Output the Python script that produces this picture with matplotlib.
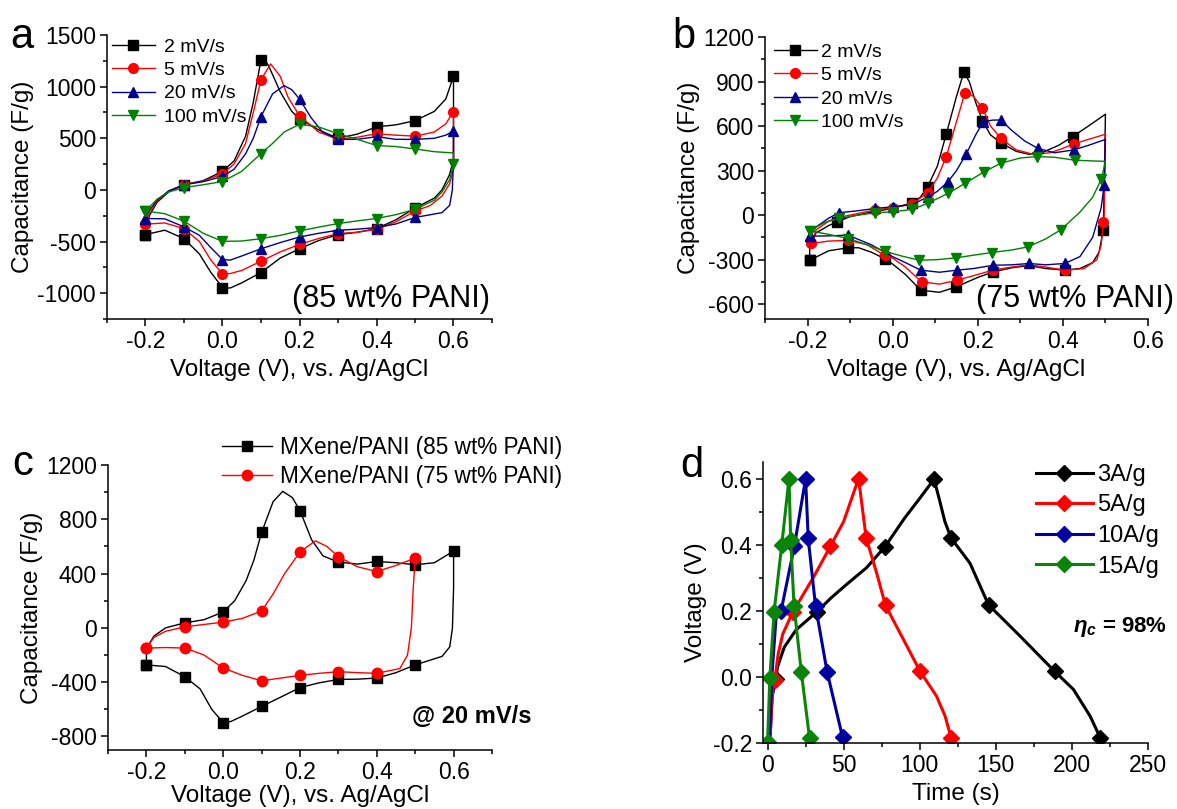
import numpy as np
import matplotlib
matplotlib.use('Agg')
import matplotlib.pyplot as plt
from matplotlib.ticker import MultipleLocator

plt.rcParams['font.family'] = ['Liberation Sans', 'DejaVu Sans']
plt.rcParams['axes.unicode_minus'] = False
plt.rcParams['mathtext.fontset'] = 'custom'
plt.rcParams['mathtext.rm'] = 'Liberation Sans:bold'
plt.rcParams['mathtext.it'] = 'Liberation Sans:bold:italic'

# ---------------- panel a: 85 wt% PANI, CV at several scan rates ----------------
a_labels = ['2 mV/s', '5 mV/s', '20 mV/s', '100 mV/s']

a_v_2 = [-0.2, -0.19, -0.17, -0.14, -0.1, -0.05, 0.0, 0.03, 0.06, 0.08, 0.1, 0.105, 0.12, 0.15, 0.18, 0.2,
         0.25, 0.3, 0.35, 0.4, 0.45, 0.5, 0.55, 0.58, 0.6,
         0.6, 0.59, 0.57, 0.55, 0.5, 0.45, 0.4, 0.35, 0.3, 0.25, 0.2, 0.15, 0.1, 0.05, 0.02, 0.0,
         -0.03, -0.06, -0.1, -0.15, -0.2]
a_c_2 = [-433, -250, -120, -20, 50, 90, 180, 280, 520, 850, 1260, 1290, 1200, 950, 760, 690,
         580, 500, 540, 610, 630, 670, 760, 880, 1100,
         300, 150, 0, -80, -175, -290, -375, -410, -433, -490, -570, -660, -800, -900, -950, -945,
         -800, -620, -472, -390, -433]
a_m_2 = [1, 0, 0, 0, 1, 0, 1, 0, 0, 0, 1, 0, 0, 0, 0, 1, 0, 1, 0, 1, 0, 1, 0, 0, 1,
         0, 0, 0, 0, 1, 0, 1, 0, 1, 0, 1, 0, 1, 0, 0, 1, 0, 0, 1, 0, 1]

a_v_5 = [-0.2, -0.19, -0.17, -0.14, -0.1, -0.05, 0.0, 0.03, 0.06, 0.08, 0.1, 0.125, 0.15, 0.17, 0.2,
         0.25, 0.3, 0.35, 0.4, 0.45, 0.5, 0.55, 0.58, 0.6,
         0.6, 0.59, 0.57, 0.54, 0.5, 0.45, 0.4, 0.35, 0.3, 0.25, 0.2, 0.15, 0.1, 0.05, 0.02, 0.0,
         -0.03, -0.06, -0.1, -0.15, -0.2]
a_c_5 = [-332, -230, -110, -10, 50, 85, 156, 250, 450, 750, 1068, 1220, 1100, 900, 717,
         560, 490, 510, 544, 530, 521, 560, 640, 759,
         200, 60, -60, -150, -205, -310, -381, -410, -423, -470, -528, -600, -690, -780, -810, -814,
         -680, -500, -375, -320, -332]
a_m_5 = [1, 0, 0, 0, 1, 0, 1, 0, 0, 0, 1, 0, 0, 0, 1, 0, 1, 0, 1, 0, 1, 0, 0, 1,
         0, 0, 0, 0, 1, 0, 1, 0, 1, 0, 1, 0, 1, 0, 0, 1, 0, 0, 1, 0, 1]

a_v_20 = [-0.2, -0.19, -0.17, -0.14, -0.1, -0.05, 0.0, 0.03, 0.06, 0.08, 0.1, 0.13, 0.16, 0.18, 0.2,
          0.23, 0.26, 0.3, 0.35, 0.4, 0.45, 0.5, 0.55, 0.58, 0.6,
          0.6, 0.597, 0.59, 0.57, 0.5, 0.45, 0.4, 0.35, 0.3, 0.25, 0.2, 0.15, 0.1, 0.05, 0.02, 0.0,
          -0.03, -0.06, -0.1, -0.15, -0.2]
a_c_20 = [-277, -200, -100, -10, 50, 80, 130, 200, 350, 500, 710, 930, 1010, 970, 880,
          700, 560, 489, 490, 515, 490, 489, 500, 530, 570,
          300, 0, -150, -220, -267, -330, -365, -380, -391, -420, -456, -510, -570, -640, -680, -674,
          -560, -440, -358, -280, -277]
a_m_20 = [1, 0, 0, 0, 1, 0, 1, 0, 0, 0, 1, 0, 0, 0, 1, 0, 0, 1, 0, 1, 0, 1, 0, 0, 1,
          0, 0, 0, 0, 1, 0, 1, 0, 1, 0, 1, 0, 1, 0, 0, 1, 0, 0, 1, 0, 1]

a_v_100 = [-0.2, -0.17, -0.14, -0.1, -0.05, 0.0, 0.05, 0.1, 0.13, 0.16, 0.2, 0.25, 0.3, 0.35, 0.4,
           0.45, 0.5, 0.55, 0.6,
           0.6, 0.59, 0.57, 0.55, 0.5, 0.45, 0.4, 0.35, 0.3, 0.25, 0.2, 0.15, 0.1, 0.05, 0.0,
           -0.05, -0.1, -0.15, -0.2]
a_c_100 = [-205, -90, -20, 23, 50, 81, 180, 352, 450, 560, 635, 610, 544, 490, 430,
           420, 397, 370, 358,
           255, 100, -20, -100, -189, -240, -277, -300, -326, -360, -397, -440, -472, -495, -498,
           -420, -303, -230, -205]
a_m_100 = [1, 0, 0, 1, 0, 1, 0, 1, 0, 0, 1, 0, 1, 0, 1, 0, 1, 0, 0,
           1, 0, 0, 0, 1, 0, 1, 0, 1, 0, 1, 0, 1, 0, 1, 0, 1, 0, 1]

# ---------------- panel b: 75 wt% PANI ----------------
b_v_2 = [-0.195, -0.195, -0.18, -0.15, -0.13, -0.1, -0.05, 0.0, 0.045, 0.065, 0.082, 0.105, 0.126, 0.15,
         0.167, 0.18, 0.195, 0.211, 0.23, 0.254, 0.29, 0.32, 0.35, 0.39, 0.423, 0.46, 0.5,
         0.497, 0.495, 0.485, 0.47, 0.44, 0.405, 0.36, 0.32, 0.28, 0.236, 0.2, 0.149, 0.11, 0.066,
         0.03, 0.0, -0.019, -0.05, -0.08, -0.104, -0.15, -0.195]
b_c_2 = [-304, -200, -120, -70, -45, -10, 20, 45, 83, 120, 191, 330, 547, 800,
         961, 900, 760, 635, 540, 488, 430, 410, 420, 470, 529, 600, 680,
         200, -97, -250, -320, -360, -371, -360, -340, -355, -383, -420, -484, -520, -506,
         -400, -330, -293, -250, -220, -220, -240, -304]
b_m_2 = [1, 0, 0, 0, 1, 0, 0, 0, 1, 0, 1, 0, 1, 0, 1, 0, 0, 1, 0, 1, 0, 0, 0, 0, 1, 0, 0,
         0, 1, 0, 0, 0, 1, 0, 0, 0, 1, 0, 1, 0, 1, 0, 0, 1, 0, 0, 1, 0, 1]

b_v_5 = [-0.191, -0.18, -0.15, -0.126, -0.1, -0.041, 0.0, 0.045, 0.082, 0.105, 0.126, 0.15, 0.17, 0.19,
         0.211, 0.23, 0.254, 0.29, 0.33, 0.37, 0.4, 0.425, 0.46, 0.5,
         0.497, 0.495, 0.49, 0.48, 0.45, 0.405, 0.36, 0.32, 0.28, 0.236, 0.2, 0.151, 0.11, 0.068,
         0.03, 0.0, -0.019, -0.06, -0.104, -0.15, -0.191]
b_c_5 = [-191, -100, -40, -15, 0, 35, 50, 75, 150, 250, 394, 630, 826, 800,
         720, 600, 518, 440, 410, 420, 450, 479, 510, 545,
         0, -45, -200, -300, -360, -371, -350, -335, -350, -370, -400, -439, -465, -450,
         -350, -290, -270, -200, -170, -175, -191]
b_m_5 = [1, 0, 0, 0, 0, 1, 1, 1, 1, 0, 1, 0, 1, 0, 1, 0, 1, 0, 0, 0, 0, 1, 0, 0,
         0, 1, 0, 0, 0, 1, 0, 0, 0, 1, 0, 1, 0, 1, 0, 0, 1, 0, 1, 0, 1]

b_v_20 = [-0.195, -0.18, -0.15, -0.126, -0.08, -0.041, 0.0, 0.045, 0.084, 0.105, 0.13, 0.15, 0.173, 0.195,
          0.213, 0.235, 0.254, 0.28, 0.31, 0.341, 0.38, 0.425, 0.46, 0.5,
          0.498, 0.497, 0.49, 0.47, 0.44, 0.404, 0.36, 0.32, 0.28, 0.236, 0.19, 0.151, 0.11, 0.066,
          0.03, 0.0, -0.05, -0.105, -0.15, -0.195]
b_c_20 = [-142, -80, -20, 16, 30, 45, 56, 70, 124, 160, 225, 300, 412, 540,
          630, 640, 641, 570, 500, 450, 420, 439, 470, 510,
          300, 203, 50, -150, -280, -326, -335, -326, -335, -338, -360, -371, -385, -371,
          -320, -280, -200, -135, -140, -142]
b_m_20 = [1, 0, 0, 1, 0, 1, 1, 0, 1, 0, 1, 0, 1, 0, 1, 0, 1, 0, 0, 1, 0, 1, 0, 0,
          0, 1, 0, 0, 0, 1, 0, 1, 0, 1, 0, 1, 0, 1, 0, 0, 0, 1, 0, 1]

b_v_100 = [-0.195, -0.16, -0.126, -0.08, -0.041, 0.0, 0.045, 0.082, 0.13, 0.17, 0.215, 0.254, 0.3, 0.338,
           0.38, 0.428, 0.47, 0.5,
           0.495, 0.49, 0.47, 0.44, 0.396, 0.36, 0.318, 0.28, 0.233, 0.19, 0.149, 0.105, 0.063,
           0.02, -0.019, -0.06, -0.104, -0.15, -0.195]
b_c_100 = [-106, -50, -22, 0, 16, 22, 38, 79, 146, 214, 292, 349, 385, 394,
           390, 370, 365, 362,
           300, 241, 120, 20, -97, -160, -214, -235, -252, -270, -288, -300, -304,
           -275, -243, -200, -158, -130, -106]
b_m_100 = [1, 0, 1, 0, 1, 1, 1, 1, 1, 1, 1, 1, 0, 1, 0, 1, 0, 0,
           0, 1, 0, 0, 1, 0, 1, 0, 1, 0, 1, 0, 1, 0, 1, 0, 1, 0, 1]

# ---------------- panel c: comparison at 20 mV/s ----------------
c_labels = ['MXene/PANI (85 wt% PANI)', 'MXene/PANI (75 wt% PANI)']

c_v_85 = [-0.2, -0.2, -0.18, -0.15, -0.1, -0.05, 0.0, 0.03, 0.06, 0.08, 0.1, 0.13, 0.155, 0.18, 0.2,
          0.23, 0.26, 0.3, 0.35, 0.4, 0.45, 0.5, 0.55, 0.6,
          0.6, 0.597, 0.59, 0.57, 0.5, 0.45, 0.4, 0.35, 0.3, 0.25, 0.2, 0.15, 0.1, 0.05, 0.02, 0.0,
          -0.03, -0.06, -0.1, -0.15, -0.2]
c_c_85 = [-273, -150, -60, 0, 37, 60, 117, 200, 350, 500, 703, 930, 1006, 960, 864,
          650, 530, 484, 470, 489, 480, 465, 480, 566,
          300, 0, -140, -210, -273, -330, -370, -378, -380, -405, -440, -510, -579, -650, -690, -698,
          -600, -450, -360, -285, -273]
c_m_85 = [1, 0, 0, 0, 1, 0, 1, 0, 0, 0, 1, 0, 0, 0, 1, 0, 0, 1, 0, 1, 0, 1, 0, 1,
          0, 0, 0, 0, 1, 0, 1, 0, 1, 0, 1, 0, 1, 0, 0, 1, 0, 0, 1, 0, 1]

c_v_75 = [-0.2, -0.18, -0.15, -0.1, -0.05, 0.0, 0.05, 0.1, 0.13, 0.16, 0.2, 0.24, 0.27, 0.3, 0.35,
          0.4, 0.45, 0.5,
          0.495, 0.49, 0.48, 0.46, 0.4, 0.35, 0.3, 0.25, 0.2, 0.15, 0.1, 0.05, 0.0, -0.05, -0.1,
          -0.15, -0.2]
c_c_75 = [-149, -70, -25, 7, 25, 42, 70, 124, 250, 400, 559, 641, 600, 524, 450,
          415, 460, 514,
          300, 0, -200, -300, -335, -330, -323, -335, -350, -370, -390, -350, -296, -200, -149,
          -145, -149]
c_m_75 = [1, 0, 0, 1, 0, 1, 0, 1, 0, 0, 1, 0, 0, 1, 0, 1, 0, 1,
          0, 0, 0, 0, 1, 0, 1, 0, 1, 0, 1, 0, 1, 0, 1, 0, 1]

# ---------------- panel d: galvanostatic charge/discharge ----------------
d_labels = ['3A/g', '5A/g', '10A/g', '15A/g']

d_t_3 = [1.5, 3, 5.5, 6.5, 11, 18.7, 32.4, 42, 52, 65, 77.2, 90, 100, 109.4, 113, 116.5, 120.6, 133,
         145.2, 166, 188.6, 201, 212, 218.6]
d_u_3 = [-0.2, -0.06, -0.005, 0.03, 0.09, 0.142, 0.197, 0.24, 0.28, 0.33, 0.394, 0.48, 0.54, 0.598,
         0.535, 0.47, 0.42, 0.344, 0.218, 0.123, 0.017, -0.038, -0.119, -0.184]
d_m_3 = [0, 0, 1, 0, 0, 0, 1, 0, 0, 0, 1, 0, 0, 1, 0, 0, 1, 0, 1, 0, 1, 0, 0, 1]

d_t_5 = [1.5, 2.5, 3.5, 4.8, 7, 10, 16.7, 30, 41.3, 50, 59.8, 64.8, 71.7, 77.5, 89.3, 100.2, 111,
         116.7, 120.6]
d_u_5 = [-0.2, -0.1, -0.03, -0.008, 0.07, 0.13, 0.197, 0.3, 0.395, 0.47, 0.6, 0.42, 0.314, 0.216,
         0.113, 0.017, -0.058, -0.119, -0.184]
d_m_5 = [0, 0, 0, 1, 0, 0, 1, 0, 1, 0, 1, 1, 0, 1, 0, 1, 0, 0, 1]

d_t_10 = [1.2, 2.8, 5.5, 8.9, 17.6, 25, 26.7, 31.5, 39.1, 49.3]
d_u_10 = [-0.2, 0.0, 0.175, 0.2, 0.395, 0.6, 0.419, 0.215, 0.016, -0.183]
d_m_10 = [0, 0, 0, 1, 1, 1, 1, 1, 1, 1]

d_t_15 = [0, 1.5, 4.3, 9.3, 14.1, 15.2, 17.4, 22.2, 27.6]
d_u_15 = [-0.196, -0.004, 0.197, 0.398, 0.6, 0.413, 0.215, 0.014, -0.186]
d_m_15 = [1, 1, 1, 1, 1, 1, 1, 1, 1]

BLACK, RED, BLUE, GREEN = 'black', '#ff0000', '#00008b', '#008000'

W, H = 1177, 809
fig = plt.figure(figsize=(W / 100, H / 100), dpi=100)


def rect(l, t, r, b):
    return [l / W, 1 - b / H, (r - l) / W, (b - t) / H]


def style(ax, fs):
    for s in ('top', 'right'):
        ax.spines[s].set_visible(False)
    for s in ('left', 'bottom'):
        ax.spines[s].set_linewidth(1.1)
    ax.tick_params(which='major', direction='out', length=5, width=1.1, labelsize=fs, pad=3)
    ax.tick_params(which='minor', direction='out', length=3, width=1.1)


def mk(mask):
    return [i for i, m in enumerate(mask) if m]


def cv_axes(ax, xmax, ylim, ymaj, fs, xpad=4):
    ax.set_xlim(-0.3, xmax)
    ax.set_ylim(*ylim)
    ax.xaxis.set_major_locator(MultipleLocator(0.2))
    ax.xaxis.set_minor_locator(MultipleLocator(0.1))
    ax.yaxis.set_major_locator(MultipleLocator(ymaj))
    ax.yaxis.set_minor_locator(MultipleLocator(ymaj / 2))
    ax.xaxis.set_major_formatter(lambda x, p: f'{x:.1f}')
    style(ax, fs)
    ax.set_xlabel('Voltage (V), vs. Ag/AgCl', fontsize=17.5, labelpad=xpad)
    ax.set_ylabel('Capacitance (F/g)', fontsize=17.5, labelpad=2)


# panel a
ax = fig.add_axes(rect(107, 35, 492, 319))
series = [(a_v_2, a_c_2, a_m_2, BLACK, 's'), (a_v_5, a_c_5, a_m_5, RED, 'o'),
          (a_v_20, a_c_20, a_m_20, BLUE, '^'), (a_v_100, a_c_100, a_m_100, GREEN, 'v')]
for (v, c, m, col, mar), lab in zip(series, a_labels):
    ax.plot(v, c, color=col, lw=1.0, marker=mar, ms=7, markevery=mk(m), label=lab)
cv_axes(ax, 0.7, (-1250, 1500), 500, 16.5)
ax.legend(loc='upper left', bbox_to_anchor=(112 / W, 1 - 38 / H), bbox_transform=fig.transFigure,
          frameon=False, fontsize=14, handlelength=2.2, handletextpad=0.5, labelspacing=0.3,
          borderpad=0, borderaxespad=0)
fig.text(490 / W, 1 - 307 / H, '(85 wt% PANI)', fontsize=22, ha='right', va='baseline')

# panel b
ax = fig.add_axes(rect(765, 37, 1148, 319))
series = [(b_v_2, b_c_2, b_m_2, BLACK, 's'), (b_v_5, b_c_5, b_m_5, RED, 'o'),
          (b_v_20, b_c_20, b_m_20, BLUE, '^'), (b_v_100, b_c_100, b_m_100, GREEN, 'v')]
for (v, c, m, col, mar), lab in zip(series, a_labels):
    ax.plot(v, c, color=col, lw=1.0, marker=mar, ms=7, markevery=mk(m), label=lab)
cv_axes(ax, 0.6, (-700, 1200), 300, 16.5)
ax.legend(loc='upper left', bbox_to_anchor=(774 / W, 1 - 43 / H), bbox_transform=fig.transFigure,
          frameon=False, fontsize=14, handlelength=2.2, handletextpad=0.2, labelspacing=0.3,
          borderpad=0, borderaxespad=0)
fig.text(1174 / W, 1 - 307 / H, '(75 wt% PANI)', fontsize=22, ha='right', va='baseline')

# panel c
ax = fig.add_axes(rect(108, 465, 492, 750))
series = [(c_v_85, c_c_85, c_m_85, BLACK, 's'), (c_v_75, c_c_75, c_m_75, RED, 'o')]
for (v, c, m, col, mar), lab in zip(series, c_labels):
    ax.plot(v, c, color=col, lw=1.0, marker=mar, ms=7.5, markevery=mk(m), label=lab)
cv_axes(ax, 0.7, (-900, 1200), 400, 16.5, xpad=0.5)
ax.legend(loc='upper left', bbox_to_anchor=(222 / W, 1 - 436 / H), bbox_transform=fig.transFigure,
          frameon=False, fontsize=16.3, handlelength=2.2, handletextpad=0.35, labelspacing=0.25,
          borderpad=0, borderaxespad=0)
fig.text(532 / W, 1 - 723 / H, '@ 20 mV/s', fontsize=17, fontweight='bold', ha='right', va='baseline')

# panel d
ax = fig.add_axes(rect(763, 462, 1148, 743))
series = [(d_t_3, d_u_3, d_m_3, BLACK), (d_t_5, d_u_5, d_m_5, RED),
          (d_t_10, d_u_10, d_m_10, '#0000a0'), (d_t_15, d_u_15, d_m_15, '#0a850a')]
for (t, u, m, col), lab in zip(series, d_labels):
    ax.plot(t, u, color=col, lw=2.2, marker='D', ms=8, markevery=mk(m), label=lab)
ax.set_xlim(-3, 250)
ax.set_ylim(-0.2, 0.65)
ax.xaxis.set_major_locator(MultipleLocator(50))
ax.xaxis.set_minor_locator(MultipleLocator(25))
ax.yaxis.set_major_locator(MultipleLocator(0.2))
ax.yaxis.set_minor_locator(MultipleLocator(0.1))
ax.yaxis.set_major_formatter(lambda x, p: f'{x:.1f}')
style(ax, 16.5)
ax.set_xlabel('Time (s)', fontsize=17.5, labelpad=4)
ax.set_ylabel('Voltage (V)', fontsize=17.5, labelpad=4)
ax.legend(loc='upper left', bbox_to_anchor=(1036 / W, 1 - 464 / H), bbox_transform=fig.transFigure,
          frameon=False, fontsize=17, handlelength=2.4, handletextpad=0.2, labelspacing=0.36,
          borderpad=0, borderaxespad=0)
fig.text(1167 / W, 1 - 632 / H, r'$\eta_c$ = 98%', fontsize=16, fontweight='bold', ha='right', va='baseline')

# panel letters
for x, y, s in [(10, 48, 'a'), (672, 48, 'b'), (12, 475, 'c'), (680, 477, 'd')]:
    fig.text(x / W, 1 - y / H, s, fontsize=30, ha='left', va='baseline')

fig.savefig('out.png', dpi=100)
